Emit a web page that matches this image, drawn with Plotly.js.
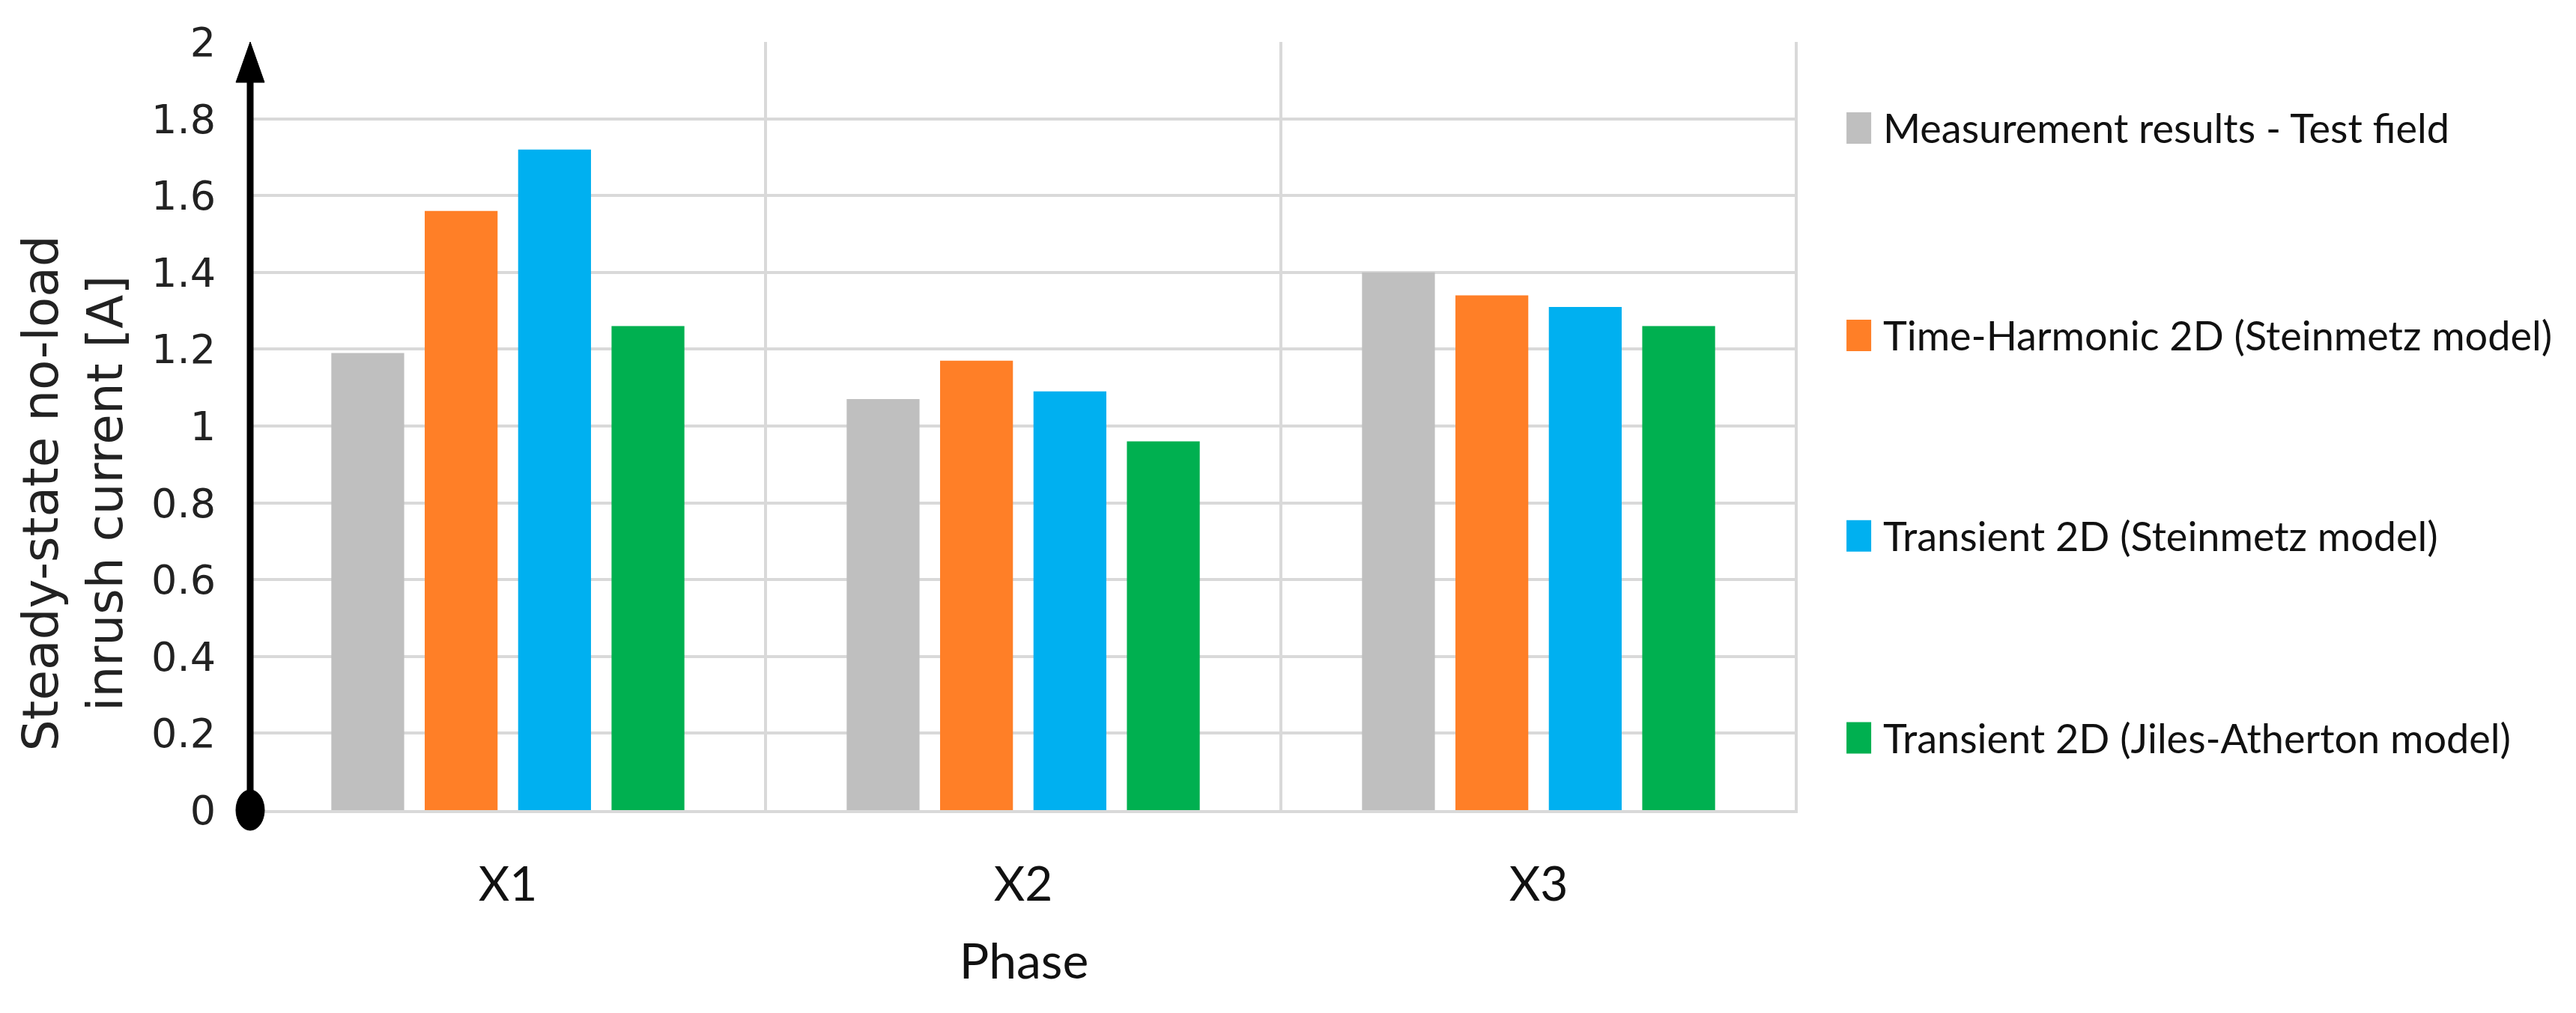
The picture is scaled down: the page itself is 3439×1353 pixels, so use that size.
<!DOCTYPE html>
<html>
<head>
<meta charset="utf-8">
<script src="https://cdn.plot.ly/plotly-3.0.1.min.js"></script>
<style>
  html, body { margin: 0; padding: 0; background: white; }
  #chart { width: 3439px; height: 1353px; }
</style>
</head>
<body>
<div id="chart"></div>
<script>
var phases = ['X1', 'X2', 'X3'];
var seriesNames = [
    'Measurement results - Test field',
    'Time-Harmonic 2D (Steinmetz model)',
    'Transient 2D (Steinmetz model)',
    'Transient 2D (Jiles-Atherton model)'
];
var measured = [1.19, 1.07, 1.40];
var timeHarmonic = [1.56, 1.17, 1.34];
var transientSteinmetz = [1.72, 1.09, 1.31];
var transientJA = [1.26, 0.96, 1.26];
var colors = ['#BFBFBF', '#FF7F27', '#00B0F0', '#00B050'];

var narrow = 'Lato, "Open Sans", sans-serif';
var wide = '"DejaVu Sans", Verdana, sans-serif';

var values = [measured, timeHarmonic, transientSteinmetz, transientJA];
var data = [];
for (var i = 0; i < values.length; i++) {
    data.push({
        type: 'bar',
        x: phases,
        y: values[i],
        name: seriesNames[i],
        marker: {color: colors[i]},
        showlegend: false
    });
}

// category separators (vertical grid between phases)
var shapes = [];
for (var k = 0; k < phases.length; k++) {
    shapes.push({
        type: 'line', xref: 'x', yref: 'y',
        x0: k + 0.5, x1: k + 0.5, y0: 0, y1: 2,
        line: {color: '#D9D9D9', width: 4},
        layer: 'below'
    });
}

// y axis drawn as black arrow with a round foot
shapes.push({
    type: 'line', xref: 'paper', yref: 'paper',
    x0: 0, x1: 0, y0: 0, y1: 0.95,
    line: {color: 'black', width: 9}
});
shapes.push({
    type: 'path', xref: 'paper', yref: 'paper',
    xsizemode: 'pixel', ysizemode: 'pixel',
    xanchor: 0, yanchor: 1,
    path: 'M -19 -54 L 19 -54 L 0 0 Z',
    fillcolor: 'black', line: {color: 'black', width: 1}
});
shapes.push({
    type: 'circle', xref: 'paper', yref: 'paper',
    xsizemode: 'pixel', ysizemode: 'pixel',
    xanchor: 0, yanchor: 0,
    x0: -19, x1: 19, y0: -27, y1: 27,
    fillcolor: 'black', line: {color: 'black', width: 1}
});

// legend on the right
var annotations = [];
var legendY = [0.888, 0.618, 0.357, 0.094];
for (var j = 0; j < seriesNames.length; j++) {
    shapes.push({
        type: 'rect', xref: 'paper', yref: 'paper',
        xsizemode: 'pixel', ysizemode: 'pixel',
        xanchor: 1.0315, yanchor: legendY[j],
        x0: 0, x1: 33, y0: -21, y1: 21,
        fillcolor: colors[j], line: {width: 0}
    });
    annotations.push({
        xref: 'paper', yref: 'paper',
        x: 1.0542, y: legendY[j],
        xanchor: 'left', yanchor: 'middle',
        text: seriesNames[j], showarrow: false,
        font: {family: narrow, size: 54, color: '#111'}
    });
}

// y axis title, sits a bit below the plot middle as in the source
annotations.push({
    xref: 'paper', yref: 'paper',
    x: -0.1147, y: 0.412,
    xanchor: 'center', yanchor: 'middle',
    textangle: -90,
    text: 'Steady-state no-load<br>inrush current [A]',
    showarrow: false,
    font: {family: wide, size: 66, color: '#222'}
});

var layout = {
    width: 3439,
    height: 1353,
    margin: {l: 334, r: 1039, t: 56, b: 271},
    paper_bgcolor: 'white',
    plot_bgcolor: 'white',
    barmode: 'group',
    bargap: 0.275,
    bargroupgap: 0.22,
    showlegend: false,
    xaxis: {
        type: 'category',
        showgrid: false,
        showline: true,
        linecolor: '#D9D9D9',
        linewidth: 4,
        ticks: '',
        ticklabelstandoff: 40,
        tickfont: {family: narrow, size: 64, color: '#111'},
        title: {text: 'Phase', font: {family: narrow, size: 66, color: '#111'}, standoff: 46},
        automargin: false
    },
    yaxis: {
        range: [0, 2],
        dtick: 0.2,
        showgrid: true,
        gridcolor: '#D9D9D9',
        gridwidth: 4,
        zeroline: false,
        showline: false,
        ticks: '',
        ticklabelstandoff: 45,
        tickfont: {family: wide, size: 54, color: '#222'},
        automargin: false
    },
    shapes: shapes,
    annotations: annotations
};

Plotly.newPlot('chart', data, layout, {displayModeBar: false, staticPlot: true});
</script>
</body>
</html>
